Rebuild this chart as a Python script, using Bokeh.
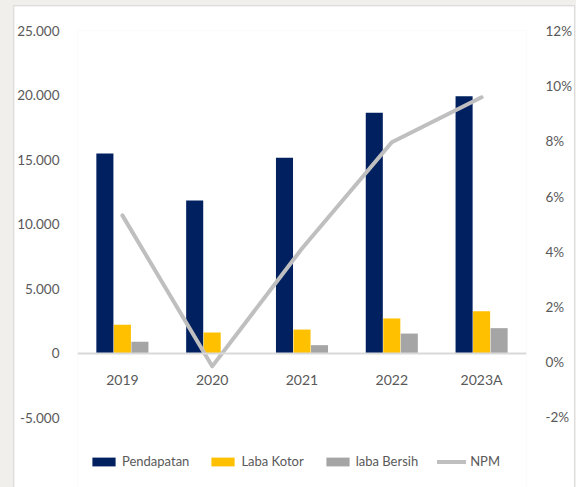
from bokeh.plotting import figure
from bokeh.models import (Range1d, LinearAxis, FixedTicker, Legend, LegendItem,
                          FactorRange, ColumnDataSource)
from bokeh.transform import dodge
from bokeh.layouts import column
from bokeh.embed import file_html
from bokeh.resources import INLINE

# ---------------- data ----------------
years = ["2019", "2020", "2021", "2022", "2023A"]
pendapatan = [15490, 11850, 15150, 18640, 19930]
laba_kotor = [2210, 1610, 1840, 2700, 3260]
laba_bersih = [890, -20, 630, 1530, 1950]
npm_pct = [5.32, -0.15, 4.12, 7.97, 9.60]

left_ticks = [-5000, 0, 5000, 10000, 15000, 20000, 25000]
left_labels = ["-5.000", "0", "5.000", "10.000", "15.000", "20.000", "25.000"]
right_ticks = [-2, 0, 2, 4, 6, 8, 10, 12]
right_labels = ["-2%", "0%", "2%", "4%", "6%", "8%", "10%", "12%"]

series_names = ["Pendapatan", "Laba Kotor", "laba Bersih", "NPM"]

# ---------------- style ----------------
FONT = "Lato"
TXT = "#595959"
C_PEND = "#002060"
C_KOTOR = "#FFC000"
C_BERSIH = "#A5A5A5"
C_NPM = "#BFBFBF"

src = ColumnDataSource(dict(year=years, pend=pendapatan, kotor=laba_kotor,
                            bersih=laba_bersih, npm=npm_pct))

p = figure(x_range=FactorRange(*years), y_range=Range1d(-10403, 25023),
           width=560, height=481, output_backend="svg", toolbar_location=None,
           min_border_left=62, min_border_right=47, min_border_top=24,
           min_border_bottom=0, background_fill_color="white",
           border_fill_color="white", outline_line_color=None)
p.x_range.range_padding = 0
p.xgrid.visible = False
p.ygrid.visible = False
p.margin = (6, 2, 0, 14)
p.styles = {"box-shadow": "0 0 0 1px #DCDCDC"}

p.extra_y_ranges = {"npm": Range1d(-4.54, 12.02)}

bw = 0.19
r1 = p.vbar(x=dodge("year", -0.195, range=p.x_range), top="pend", width=bw,
            source=src, color=C_PEND, line_color=None)
r2 = p.vbar(x=dodge("year", 0.0, range=p.x_range), top="kotor", width=bw,
            source=src, color=C_KOTOR, line_color=None)
r3 = p.vbar(x=dodge("year", 0.195, range=p.x_range), top="bersih", width=bw,
            source=src, color=C_BERSIH, line_color=None)
r4 = p.line(x="year", y="npm", source=src, y_range_name="npm", line_color=C_NPM,
            line_width=4, line_join="round", line_cap="round")

# x axis on the zero line
xa = p.xaxis[0]
xa.fixed_location = 0
xa.axis_line_color = "#D9D9D9"
xa.axis_line_width = 2
xa.major_tick_line_color = None
xa.minor_tick_line_color = None
xa.major_label_standoff = 12
xa.major_label_text_font = FONT
xa.major_label_text_font_size = "14px"
xa.major_label_text_color = TXT

ya = p.yaxis[0]
ya.ticker = FixedTicker(ticks=left_ticks)
ya.major_label_overrides = dict(zip(left_ticks, left_labels))
ya.axis_line_color = None
ya.major_tick_line_color = None
ya.minor_tick_line_color = None
ya.major_label_standoff = 12
ya.major_label_text_font = FONT
ya.major_label_text_font_size = "13.5px"
ya.major_label_text_color = TXT

ra = LinearAxis(y_range_name="npm", ticker=FixedTicker(ticks=right_ticks))
ra.major_label_overrides = dict(zip(right_ticks, right_labels))
ra.axis_line_color = None
ra.major_tick_line_color = None
ra.minor_tick_line_color = None
ra.major_label_standoff = 13
ra.major_label_text_font = FONT
ra.major_label_text_font_size = "13.5px"
ra.major_label_text_color = TXT
p.add_layout(ra, "right")

legend = Legend(items=[LegendItem(label=series_names[0], renderers=[r1]),
                       LegendItem(label=series_names[1], renderers=[r2]),
                       LegendItem(label=series_names[2], renderers=[r3]),
                       LegendItem(label=series_names[3], renderers=[r4])],
                orientation="horizontal", location=(12, 18), padding=0,
                spacing=19, label_standoff=4, glyph_width=29, glyph_height=11,
                border_line_color=None, background_fill_alpha=0, margin=0,
                label_text_font=FONT, label_text_font_size="13px",
                label_text_color=TXT)
p.add_layout(legend)

root = column(p, styles={"background-color": "#F0EFEB"})
open("out.html", "w").write(file_html(root, INLINE))
